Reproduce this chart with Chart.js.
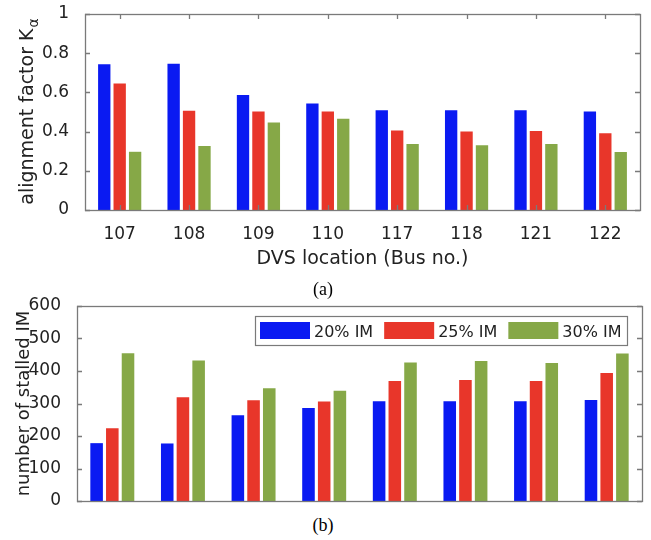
<!DOCTYPE html>
<html>
<head>
<meta charset="utf-8">
<script src="https://cdn.jsdelivr.net/npm/chart.js@4.4.0/dist/chart.umd.min.js"></script>
<style>
  body { margin: 0; background: #fff; width: 651px; height: 540px; position: relative; overflow: hidden; }
  canvas { position: absolute; left: 0; }
  #chartA { top: 0; }
  #chartB { top: 290px; }
  .cap { position: absolute; left: 0; width: 646px; text-align: center; font-family: 'Liberation Serif', 'Times New Roman', serif; font-size: 18px; line-height: 20px; color: #000; z-index: 2; }
</style>
</head>
<body>
<canvas id="chartA" width="651" height="270"></canvas>
<canvas id="chartB" width="651" height="220"></canvas>
<div class="cap" style="top:279px">(a)</div>
<div class="cap" style="top:515px">(b)</div>
<script>
// bus numbers where the DVS sits
const busNos = ['107', '108', '109', '110', '117', '118', '121', '122'];
const seriesLabels = ['20% IM', '25% IM', '30% IM'];
const seriesColors = ['#0a1af2', '#e8362a', '#86a847'];

// (a) alignment factor
const alpha20 = [0.743, 0.746, 0.587, 0.544, 0.509, 0.509, 0.509, 0.503];
const alpha25 = [0.646, 0.507, 0.503, 0.503, 0.406, 0.401, 0.403, 0.391];
const alpha30 = [0.297, 0.327, 0.447, 0.466, 0.337, 0.330, 0.337, 0.296];
const alphaTicks = ['0', '0.2', '0.4', '0.6', '0.8', '1'];

// (b) number of stalled IM
const stalled20 = [178, 177, 264, 286, 307, 307, 307, 311];
const stalled25 = [224, 319, 310, 306, 369, 372, 369, 394];
const stalled30 = [455, 432, 347, 339, 426, 431, 425, 454];
const stalledTicks = ['0', '100', '200', '300', '400', '500', '600'];

Chart.defaults.font.family = '"DejaVu Sans", sans-serif';
Chart.defaults.color = '#222';

const axisGrey = '#7a7a7a';

// matlab-like box with inward ticks
const boxTicks = {
    id: 'boxTicks',
    afterDatasetsDraw(chart, args, opts) {
        const { ctx, chartArea: a, scales: { x, y } } = chart;
        ctx.save();
        ctx.strokeStyle = axisGrey;
        ctx.lineWidth = 1.3;
        ctx.beginPath();
        if (opts.xTicks) {
            x.ticks.forEach((t, i) => {
                const px = Math.round(x.getPixelForTick(i)) + 0.5;
                ctx.moveTo(px, a.bottom); ctx.lineTo(px, a.bottom - 5);
                ctx.moveTo(px, a.top); ctx.lineTo(px, a.top + 5);
            });
        }
        y.ticks.forEach(t => {
            const py = Math.round(y.getPixelForValue(t.value)) + 0.5;
            ctx.moveTo(a.left, py); ctx.lineTo(a.left + 5, py);
            ctx.moveTo(a.right, py); ctx.lineTo(a.right - 5, py);
        });
        ctx.stroke();
        ctx.strokeRect(Math.round(a.left) + 0.5, Math.round(a.top) + 0.5,
            Math.round(a.right - a.left), Math.round(a.bottom - a.top));
        ctx.restore();
    }
};

// y title with subscript alpha
const kTitle = {
    id: 'kTitle',
    afterDraw(chart) {
        const { ctx, chartArea: a } = chart;
        const main = 'alignment factor K', sub = 'α';
        ctx.save();
        ctx.fillStyle = '#222';
        ctx.font = '19px "DejaVu Sans"';
        const w1 = ctx.measureText(main).width;
        ctx.font = '14px "DejaVu Sans"';
        const w2 = ctx.measureText(sub).width;
        ctx.translate(33, (a.top + a.bottom) / 2 + (w1 + w2) / 2);
        ctx.rotate(-Math.PI / 2);
        ctx.textBaseline = 'alphabetic';
        ctx.font = '19px "DejaVu Sans"';
        ctx.fillText(main, 0, 0);
        ctx.font = '14px "DejaVu Sans"';
        ctx.fillText(sub, w1 + 1, 5);
        ctx.restore();
    }
};

// legend in a box inside the plot, top right
const boxLegend = {
    id: 'boxLegend',
    afterDraw(chart) {
        const { ctx, chartArea: a } = chart;
        const sets = chart.data.datasets;
        const sw = 50, sh = 17, gap = 4, sep = 11, pad = 5, h = 29;
        ctx.save();
        ctx.font = '16px "DejaVu Sans"';
        const widths = sets.map(d => ctx.measureText(d.label).width);
        const total = pad * 2 + sets.length * (sw + gap) + widths.reduce((s, w) => s + w, 0) + sep * (sets.length - 1);
        const top = Math.round(a.top + 10);
        let x = Math.round(a.right - 15 - total);
        ctx.fillStyle = '#fff';
        ctx.fillRect(x, top, total, h);
        ctx.strokeStyle = axisGrey;
        ctx.lineWidth = 1.2;
        ctx.strokeRect(x + 0.5, top + 0.5, Math.round(total), h);
        x += pad;
        ctx.textBaseline = 'middle';
        sets.forEach((d, i) => {
            ctx.fillStyle = d.backgroundColor;
            ctx.fillRect(x, top + 6, sw, sh);
            x += sw + gap;
            ctx.fillStyle = '#222';
            ctx.fillText(d.label, x, top + h / 2 + 2);
            x += widths[i] + sep;
        });
        ctx.restore();
    }
};

function makeSets(values) {
    return values.map((vals, i) => ({
        label: seriesLabels[i],
        data: vals,
        backgroundColor: seriesColors[i],
        borderWidth: 0,
        categoryPercentage: 0.667,
        barPercentage: 0.8,
    }));
}

// fixed axis width, no extra room for edge labels
function fixWidth(w) {
    return (s) => { s.width = w; s.paddingTop = 0; s.paddingBottom = 0; };
}

new Chart(document.getElementById('chartA'), {
    type: 'bar',
    data: { labels: busNos, datasets: makeSets([alpha20, alpha25, alpha30]) },
    options: {
        responsive: false,
        devicePixelRatio: 1,
        animation: false,
        layout: { padding: { top: 14, right: 11, left: 0, bottom: 0 } },
        plugins: { legend: { display: false }, tooltip: { enabled: false }, boxTicks: { xTicks: true } },
        scales: {
            x: {
                grid: { display: false },
                border: { display: false },
                ticks: { font: { size: 17 }, padding: 6, maxRotation: 0 },
                title: { display: true, text: 'DVS location (Bus no.)', font: { size: 19, lineHeight: 1.1 }, padding: 0 },
                afterFit: (s) => { s.height = 60; },
            },
            y: {
                min: 0,
                max: 1,
                grid: { display: false },
                border: { display: false },
                ticks: { stepSize: 0.2, font: { size: 17 }, padding: 8, callback: (v, i) => alphaTicks[i] },
                afterFit: fixWidth(85),
            },
        },
    },
    plugins: [boxTicks, kTitle],
});

new Chart(document.getElementById('chartB'), {
    type: 'bar',
    data: { labels: busNos, datasets: makeSets([stalled20, stalled25, stalled30]) },
    options: {
        responsive: false,
        devicePixelRatio: 1,
        animation: false,
        layout: { padding: { top: 16, right: 9, left: 0, bottom: 0 } },
        plugins: { legend: { display: false }, tooltip: { enabled: false }, boxTicks: { xTicks: false } },
        scales: {
            x: {
                grid: { display: false },
                border: { display: false },
                ticks: { display: false },
                afterFit: (s) => { s.height = 9; },
            },
            y: {
                min: 0,
                max: 600,
                grid: { display: false },
                border: { display: false },
                ticks: { stepSize: 100, font: { size: 17 }, padding: 8, callback: (v, i) => stalledTicks[i] },
                title: { display: true, text: 'number of stalled IM', font: { size: 18, lineHeight: 1.1 }, padding: { top: 14, bottom: 0 } },
                afterFit: fixWidth(77),
            },
        },
    },
    plugins: [boxTicks, boxLegend],
});
</script>
</body>
</html>
